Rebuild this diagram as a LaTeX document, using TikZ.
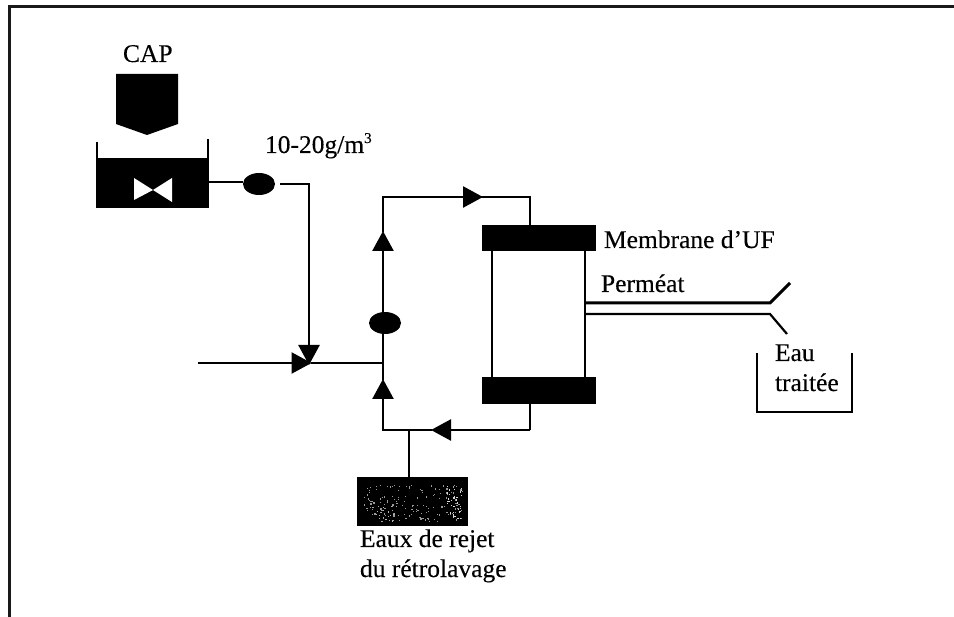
\documentclass[tikz,border=0pt]{standalone}
\usepackage{fontspec}
\setmainfont{Liberation Serif}
\newfontfamily\scanfont{Liberation Serif}[FakeBold=0.25]
\usetikzlibrary{arrows.meta,shapes.geometric}
\tikzset{
  pipe/.style={line width=2.5pt,black},
  flow/.style={pipe,-{Triangle[length=20pt,width=21pt]},shorten >=-1pt},
  blackbox/.style={fill=black,draw=none,inner sep=0pt,outer sep=0pt,rectangle},
  pumpdot/.style={ellipse,fill=black,draw=none,inner sep=0pt,outer sep=0pt,minimum width=32pt,minimum height=22pt},
  lab/.style={anchor=base west,inner sep=0pt,outer sep=0pt,font=\scanfont\fontsize{25.5}{30}\selectfont},
}
\begin{document}
\begin{tikzpicture}[x=1pt,y=-1pt]
\useasboundingbox (0,0) rectangle (954,617);
% frame
\coordinate (fA) at (954,6.5);
\coordinate (fB) at (9,6.5);
\coordinate (fC) at (9,617);
\draw[line width=3pt,black!90] (fA) -- (fB) -- (fC);

% hopper
\fill[black] (116,74) -- (178,74) -- (178,124) -- (147,135) -- (116,124) -- cycle;
\node[lab] (cap) at (123,62) {CAP};

% dosing tank
\node[blackbox,minimum width=113pt,minimum height=50pt] (tank) at (152.5,183) {};
\coordinate (tl) at (97,142);
\coordinate (tr) at (208,139);
\draw[pipe] (tl) -- (tank.north west -| tl);
\draw[pipe] (tr) -- (tank.north east -| tr);
\fill[white] (134,178) -- (153,190) -- (134,200) -- cycle;
\fill[white] (172,178) -- (153,190) -- (172,202) -- cycle;

% dosing pump and line
\node[pumpdot] (p1) at (259,184) {};
\node[lab] (dose) at (265,153) {10-20g/m\raisebox{10pt}{\fontsize{15}{15}\selectfont 3}};
\coordinate (p1out) at (280,184);
\coordinate (knee) at (309,184);
\coordinate (mix) at (310.5,363);
\coordinate (feed) at (198,363);
\coordinate (junc) at (383,363);
\draw[pipe] (tank.east |- 0,182) -- (p1.west |- 0,182);
\draw[pipe] (p1out) -- (knee) -- (309,345);
\draw[flow] (309,342) -- (309,364);
\draw[flow] (feed) -- (mix);
\draw[pipe] (mix) -- (junc);

% recirculation pump
\node[pumpdot] (p2) at (385,323) {};
\coordinate (top) at (383,197);
\coordinate (upTip) at (383,232);
\coordinate (rTip) at (482,197);
\coordinate (inlet) at (530,197);
\coordinate (bottomL) at (383,431);
\coordinate (loTip) at (383,380);
\coordinate (outlet) at (530,430);
\coordinate (lTip) at (432,430);

% membrane
\node[blackbox,minimum width=114pt,minimum height=26pt] (barT) at (539,238) {};
\node[blackbox,minimum width=114pt,minimum height=27pt] (barB) at (539,390.5) {};
\draw[pipe] (492,251) -- (492,377);
\draw[pipe] (585,251) -- (585,377);
\node[lab] (memb) at (604,248) {Membrane d’UF};

% loop connectors
\draw[pipe] (junc) -- (p2.south -| junc);
\draw[flow] (p2.north -| upTip) -- (upTip);
\draw[pipe] (upTip) -- (top) -- (rTip);
\draw[flow] (top) -- (rTip);
\draw[pipe] (rTip) -- (inlet) -- (barT.north -| inlet);
\draw[flow] (bottomL) -- (loTip);
\draw[pipe] (loTip) -- (junc);
\draw[pipe] (barB.south -| outlet) -- (outlet);
\draw[flow] (outlet) -- (lTip);
\draw[pipe] (lTip) -- (bottomL |- lTip) -- (bottomL);

% backwash waste
\node[blackbox,minimum width=111pt,minimum height=49pt] (waste) at (412.5,501.5) {};
\pgfmathsetseed{4242}
\foreach \i in {1,...,150}{
  \pgfmathsetmacro{\dx}{364+98*rnd}
  \pgfmathsetmacro{\dy}{485+36*rnd}
  \fill[white!60!black] (\dx,\dy) rectangle ++(1.2,1.2);
}
\foreach \i in {1,...,35}{
  \pgfmathsetmacro{\dx}{446+15*rnd}
  \pgfmathsetmacro{\dy}{484+36*rnd}
  \fill[white!85!black] (\dx,\dy) rectangle ++(1.2,1.2);
}
\foreach \i in {1,...,20}{
  \pgfmathsetmacro{\dx}{376+22*rnd}
  \pgfmathsetmacro{\dy}{505+16*rnd}
  \fill[white!70!black] (\dx,\dy) rectangle ++(1.2,1.2);
}
\draw[pipe] (waste.north -| 409,0) -- (409,431);
\node[lab] (rej1) at (360,547) {Eaux de rejet};
\node[lab] (rej2) at (360,577) {du rétrolavage};

% permeate
\coordinate (pU) at (770,303);
\coordinate (pL) at (770,314);
\coordinate (pU2) at (790,283);
\coordinate (pL2) at (787,334);
\draw[line width=3pt] (585,303) -- (pU) -- (pU2);
\draw[line width=2.2pt] (585,314) -- (pL) -- (pL2);
\node[lab] (perm) at (601,292) {Perméat};

% treated water tank
\coordinate (bl) at (757,353);
\coordinate (br) at (852,353);
\draw[pipe] (bl) -- (757,412) -- (852,412) -- (br);
\node[lab] (eau) at (775,361) {Eau};
\node[lab] (trt) at (775,391) {traitée};
\end{tikzpicture}
\end{document}
